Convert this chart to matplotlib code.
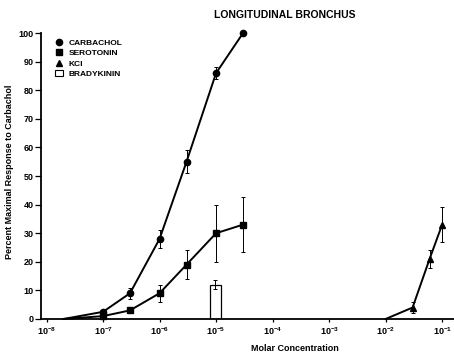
#!/usr/bin/env python3
"""Longitudinal bronchus dose-response curves"""

import matplotlib.pyplot as plt
from matplotlib.lines import Line2D
from matplotlib.patches import Rectangle
import numpy as np

plt.rcParams['font.family'] = ['Liberation Sans Narrow', 'Liberation Sans', 'DejaVu Sans']
plt.rcParams['font.weight'] = 'bold'
plt.rcParams['mathtext.fontset'] = 'custom'
plt.rcParams['mathtext.rm'] = 'Liberation Sans:bold'
plt.rcParams['mathtext.it'] = 'Liberation Sans:bold'

# Data (first point of each curve is the zero start, drawn without marker)
carb_x = [2e-8, 1e-7, 3e-7, 1e-6, 3e-6, 1e-5, 3e-5]
carb_y = [0, 2.5, 9, 28, 55, 86, 100]
carb_err = [0, 0.8, 2, 3, 4, 2, 0]

sero_x = [2e-8, 1e-7, 3e-7, 1e-6, 3e-6, 1e-5, 3e-5]
sero_y = [0, 1, 3, 9, 19, 30, 33]
sero_err = [0, 0.5, 1, 3, 5, 10, 9.5]

kcl_x = [1e-2, 3e-2, 6e-2, 1e-1]
kcl_y = [0, 4, 21, 33]
kcl_err = [0, 2, 3, 6]

brady_x = 1e-5
brady_y = 12
brady_err = 1.5

fig = plt.figure(figsize=(4.54, 3.56), dpi=100)
ax = fig.add_axes([0.090, 0.104, 0.91, 0.803])

lw = 1.4
for xs, ys, es, mk in [(carb_x, carb_y, carb_err, 'o'),
                       (sero_x, sero_y, sero_err, 's'),
                       (kcl_x, kcl_y, kcl_err, '^')]:
    ax.plot(xs, ys, color='black', lw=lw, marker=mk, markersize=4.5,
            markevery=list(range(1, len(xs))), clip_on=False, zorder=3)
    ax.errorbar(xs[1:], ys[1:], yerr=es[1:], fmt='none', ecolor='black',
                elinewidth=0.7, capsize=1.5, capthick=0.7, zorder=2)

# bradykinin open bar
lo, hi = brady_x * 10 ** -0.11, brady_x * 10 ** 0.09
ax.bar(lo, brady_y, width=hi - lo, align='edge', facecolor='white',
       edgecolor='black', linewidth=0.9, zorder=2)
ax.errorbar([brady_x * 10 ** -0.01], [brady_y], yerr=brady_err, fmt='none',
            ecolor='black', elinewidth=0.7, capsize=1.5, capthick=0.7, zorder=3)

ax.set_xscale('log')
ax.set_xlim(10 ** -8.1, 10 ** -0.79)
ax.set_ylim(0, 100)
ax.set_yticks(np.arange(0, 101, 10))
ax.set_xticks([10.0 ** k for k in range(-8, 0)])
ax.set_xticklabels([r'$10^{-%d}$' % k for k in range(8, 0, -1)])
ax.xaxis.set_minor_locator(plt.NullLocator())
ax.tick_params(axis='both', labelsize=6.5, width=0.9)
ax.tick_params(axis='y', length=4, pad=1)
ax.tick_params(axis='x', length=2.5, pad=2)

for s in ['top', 'right']:
    ax.spines[s].set_visible(False)
ax.spines['left'].set_linewidth(1.3)
ax.spines['bottom'].set_linewidth(1.3)

handles = [
    Line2D([], [], color='black', marker='o', ls='none', markersize=4.5),
    Line2D([], [], color='black', marker='s', ls='none', markersize=4.5),
    Line2D([], [], color='black', marker='^', ls='none', markersize=4.5),
    Rectangle((0, 0), 1, 1, facecolor='white', edgecolor='black', lw=0.8),
]
labels = ['CARBACHOL', 'SEROTONIN', 'KCl', 'BRADYKININ']
ax.legend(handles, labels, loc='upper left', bbox_to_anchor=(0.02, 1.0),
          frameon=False, fontsize=6, handlelength=1.0, handletextpad=0.6,
          labelspacing=0.32, borderpad=0.2)

fig.text(0.628, 0.958, 'LONGITUDINAL BRONCHUS', ha='center', va='center',
         fontsize=7.5, fontweight='bold')
fig.text(0.650, 0.022, 'Molar Concentration', ha='center', va='center',
         fontsize=6.5, fontweight='bold')
fig.text(0.020, 0.517, 'Percent Maximal Response to Carbachol', ha='center',
         va='center', rotation=90, fontsize=6.5, fontweight='bold')

plt.savefig('out.png', dpi=100, facecolor='white')
plt.close()
